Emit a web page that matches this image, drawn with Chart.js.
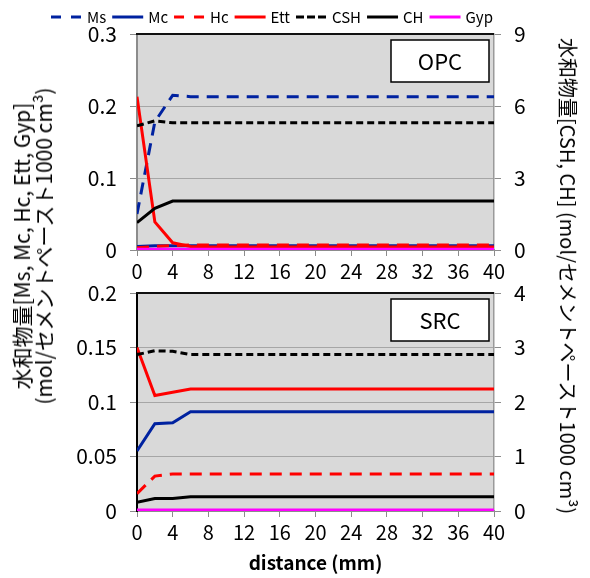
<!DOCTYPE html>
<html>
<head>
<meta charset="utf-8">
<script src="https://cdn.jsdelivr.net/npm/chart.js@4"></script>
<style>
  html, body { margin: 0; padding: 0; background: #fff; }
  #wrap { position: relative; width: 590px; height: 578px; overflow: hidden; }
  #topBox { position: absolute; left: 0; top: 0; width: 590px; height: 285px; }
  #botBox { position: absolute; left: 0; top: 285px; width: 590px; height: 293px; }
  .ytitle { position: absolute; white-space: nowrap; text-align: center; color: #000;
            font-family: "Noto Sans CJK JP", "Noto Sans", sans-serif; }
  #titleL { left: 32px; top: 246px; font-size: 21px; line-height: 22px;
            transform: translate(-50%, -50%) rotate(-90deg); }
  #titleR { left: 568px; top: 276px; font-size: 20px; line-height: 22px;
            transform: translate(-50%, -50%) rotate(90deg); }
</style>
</head>
<body>
<div id="wrap">
  <div id="topBox"><canvas id="opcChart"></canvas></div>
  <div id="botBox"><canvas id="srcChart"></canvas></div>
  <div class="ytitle" id="titleL">水和物量[Ms, Mc, Hc, Ett, Gyp]<br>(mol/セメントペースト1000 cm³)</div>
  <div class="ytitle" id="titleR">水和物量[CSH, CH] (mol/セメントペースト1000 cm³)</div>
</div>
<script>
const FONT = "'Noto Sans CJK JP', 'Noto Sans', sans-serif";

// distance from surface (mm)
const distance = [0, 2, 4, 6, 8, 10, 12, 14, 16, 18, 20, 22, 24, 26, 28, 30, 32, 34, 36, 38, 40];

// OPC  (Ms..Ett, Gyp: left axis / CSH, CH: right axis)
const opcMs  = [0.050, 0.178, 0.215, 0.213, 0.213, 0.213, 0.213, 0.213, 0.213, 0.213, 0.213, 0.213, 0.213, 0.213, 0.213, 0.213, 0.213, 0.213, 0.213, 0.213, 0.213];
const opcMc  = [0.005, 0.006, 0.006, 0.006, 0.006, 0.006, 0.006, 0.006, 0.006, 0.006, 0.006, 0.006, 0.006, 0.006, 0.006, 0.006, 0.006, 0.006, 0.006, 0.006, 0.006];
const opcHc  = [0.003, 0.005, 0.006, 0.007, 0.007, 0.007, 0.007, 0.007, 0.007, 0.007, 0.007, 0.007, 0.007, 0.007, 0.007, 0.007, 0.007, 0.007, 0.007, 0.007, 0.007];
const opcEtt = [0.213, 0.039, 0.010, 0.005, 0.004, 0.004, 0.004, 0.004, 0.004, 0.004, 0.004, 0.004, 0.004, 0.004, 0.004, 0.004, 0.004, 0.004, 0.004, 0.004, 0.004];
const opcCSH = [5.17, 5.38, 5.30, 5.30, 5.30, 5.30, 5.30, 5.30, 5.30, 5.30, 5.30, 5.30, 5.30, 5.30, 5.30, 5.30, 5.30, 5.30, 5.30, 5.30, 5.30];
const opcCH  = [1.14, 1.74, 2.04, 2.04, 2.04, 2.04, 2.04, 2.04, 2.04, 2.04, 2.04, 2.04, 2.04, 2.04, 2.04, 2.04, 2.04, 2.04, 2.04, 2.04, 2.04];
const opcGyp = [0.001, 0.001, 0.001, 0.001, 0.001, 0.001, 0.001, 0.001, 0.001, 0.001, 0.001, 0.001, 0.001, 0.001, 0.001, 0.001, 0.001, 0.001, 0.001, 0.001, 0.001];

// SRC
const srcMs  = [0.000, 0.000, 0.000, 0.000, 0.000, 0.000, 0.000, 0.000, 0.000, 0.000, 0.000, 0.000, 0.000, 0.000, 0.000, 0.000, 0.000, 0.000, 0.000, 0.000, 0.000];
const srcMc  = [0.055, 0.080, 0.081, 0.091, 0.091, 0.091, 0.091, 0.091, 0.091, 0.091, 0.091, 0.091, 0.091, 0.091, 0.091, 0.091, 0.091, 0.091, 0.091, 0.091, 0.091];
const srcHc  = [0.016, 0.032, 0.034, 0.034, 0.034, 0.034, 0.034, 0.034, 0.034, 0.034, 0.034, 0.034, 0.034, 0.034, 0.034, 0.034, 0.034, 0.034, 0.034, 0.034, 0.034];
const srcEtt = [0.150, 0.106, 0.109, 0.112, 0.112, 0.112, 0.112, 0.112, 0.112, 0.112, 0.112, 0.112, 0.112, 0.112, 0.112, 0.112, 0.112, 0.112, 0.112, 0.112, 0.112];
const srcCSH = [2.87, 2.94, 2.93, 2.87, 2.87, 2.87, 2.87, 2.87, 2.87, 2.87, 2.87, 2.87, 2.87, 2.87, 2.87, 2.87, 2.87, 2.87, 2.87, 2.87, 2.87];
const srcCH  = [0.16, 0.23, 0.23, 0.26, 0.26, 0.26, 0.26, 0.26, 0.26, 0.26, 0.26, 0.26, 0.26, 0.26, 0.26, 0.26, 0.26, 0.26, 0.26, 0.26, 0.26];
const srcGyp = [0.001, 0.001, 0.001, 0.001, 0.001, 0.001, 0.001, 0.001, 0.001, 0.001, 0.001, 0.001, 0.001, 0.001, 0.001, 0.001, 0.001, 0.001, 0.001, 0.001, 0.001];

const xTicks = [0, 4, 8, 12, 16, 20, 24, 28, 32, 36, 40];

const NAVY = '#0022a0', RED = '#ff0000', BLACK = '#000000', MAGENTA = '#ff00ff';
const SERIES = [
  { label: 'Ms',  color: NAVY,    dash: [12, 8], axis: 'y' },
  { label: 'Mc',  color: NAVY,    dash: [],      axis: 'y' },
  { label: 'Hc',  color: RED,     dash: [12, 8], axis: 'y' },
  { label: 'Ett', color: RED,     dash: [],      axis: 'y' },
  { label: 'CSH', color: BLACK,   dash: [7, 4],  axis: 'y1' },
  { label: 'CH',  color: BLACK,   dash: [],      axis: 'y1' },
  { label: 'Gyp', color: MAGENTA, dash: [],      axis: 'y' }
];

function makeDatasets(values) {
  return SERIES.map((s, i) => ({
    label: s.label,
    data: distance.map((d, k) => ({ x: d, y: values[i][k] })),
    borderColor: s.color,
    backgroundColor: s.color,
    borderDash: s.dash,
    borderWidth: 3,
    pointRadius: 0,
    tension: 0,
    yAxisID: s.axis,
    order: SERIES.length - i
  }));
}

// legend row across the top, drawn from the dataset styles
const lineLegend = {
  id: 'lineLegend',
  afterDraw(chart) {
    const c = chart.ctx;
    let x = 51;
    const y = 17;
    c.save();
    c.font = '15px ' + FONT;
    c.textAlign = 'left';
    c.textBaseline = 'middle';
    chart.data.datasets.forEach(ds => {
      c.strokeStyle = ds.borderColor;
      c.lineWidth = 3;
      c.setLineDash(ds.borderDash.length ? (ds.borderDash[0] > 8 ? [10, 10] : [8, 3]) : []);
      c.beginPath();
      c.moveTo(x, y);
      c.lineTo(x + 31, y);
      c.stroke();
      c.setLineDash([]);
      x += 36;
      c.fillStyle = '#000';
      c.fillText(ds.label, x, y);
      x += c.measureText(ds.label).width + 6;
    });
    c.restore();
  }
};

// pin the plot area: no extra room for half tick labels
const noPad = (w) => (scale) => {
  scale.width = w;
  scale.paddingTop = 0;
  scale.paddingBottom = 0;
};

function makeChart(canvasId, values, o) {
  const ctx = document.getElementById(canvasId);
  const extra = o.legend ? [lineLegend] : [];
  return new Chart(ctx, {
    type: 'line',
    data: { datasets: makeDatasets(values) },
    options: {
      responsive: true,
      maintainAspectRatio: false,
      animation: false,
      events: [],
      layout: { padding: { left: 0, right: 48, top: o.padTop, bottom: 0 } },
      plugins: {
        legend: { display: false },
        tooltip: { enabled: false }
      },
      scales: {
        x: {
          type: 'linear', min: 0, max: 40,
          afterBuildTicks: (scale) => { scale.ticks = xTicks.map(v => ({ value: v })); },
          afterFit: (scale) => { scale.height = o.xHeight; },
          grid: { drawOnChartArea: false, drawTicks: true, tickLength: 6, tickColor: '#8c8c8c' },
          border: { color: o.xBorder, width: 2 },
          ticks: { color: '#000', padding: 3, maxRotation: 0, autoSkip: false, font: { family: FONT, size: 20 } },
          title: {
            display: !!o.xTitle, text: o.xTitle || '', color: '#000',
            padding: { top: 0, bottom: 4 },
            font: { family: FONT, size: 19, weight: 'bold' }
          }
        },
        y: {
          position: 'left', min: 0, max: o.yMax,
          ticks: { stepSize: o.yStep, color: '#000', padding: 13, font: { family: FONT, size: 21 },
                   callback: (v) => String(+v.toFixed(2)) },
          afterFit: noPad(137),
          grid: { color: '#a6a6a6', lineWidth: 1, tickLength: 7, tickColor: '#8c8c8c' },
          border: { color: o.yBorder, width: 2 }
        },
        y1: {
          position: 'right', min: 0, max: o.y1Max,
          ticks: { stepSize: o.y1Step, color: '#000', padding: 13, font: { family: FONT, size: 21 } },
          afterFit: noPad(48),
          grid: { drawOnChartArea: false, tickLength: 7, tickColor: '#8c8c8c' },
          border: { color: '#9a9a9a', width: 1.5 }
        }
      }
    },
    plugins: extra.concat([{
      id: canvasId + 'Frame',
      beforeDraw(chart) {
        const { ctx: c, chartArea: a } = chart;
        c.save();
        c.fillStyle = '#d9d9d9';
        c.fillRect(a.left, a.top, a.right - a.left, a.bottom - a.top);
        c.restore();
      },
      afterDraw(chart) {
        const { ctx: c, chartArea: a } = chart;
        c.save();
        // top edge of plot area
        c.strokeStyle = '#111';
        c.lineWidth = 2;
        c.beginPath();
        c.moveTo(a.left - 1, a.top);
        c.lineTo(a.right, a.top);
        c.stroke();
        // cement label box
        const bw = 98, bh = 42;
        const bx = a.right - 5 - bw, by = a.top + 6;
        c.fillStyle = '#fff';
        c.fillRect(bx, by, bw, bh);
        c.strokeStyle = '#000';
        c.lineWidth = 1.5;
        c.strokeRect(bx, by, bw, bh);
        c.fillStyle = '#000';
        c.font = '22px ' + FONT;
        c.textAlign = 'center';
        c.textBaseline = 'middle';
        c.fillText(o.tag, bx + bw / 2, by + bh / 2 + 1);
        c.restore();
      }
    }])
  });
}

makeChart('opcChart', [opcMs, opcMc, opcHc, opcEtt, opcCSH, opcCH, opcGyp], {
  legend: true, padTop: 34, xHeight: 35, tag: 'OPC',
  yMax: 0.3, yStep: 0.1, y1Max: 9, y1Step: 3,
  xBorder: '#8c8c8c', yBorder: '#8c8c8c'
});

makeChart('srcChart', [srcMs, srcMc, srcHc, srcEtt, srcCSH, srcCH, srcGyp], {
  legend: false, padTop: 8, xHeight: 67, tag: 'SRC', xTitle: 'distance (mm)',
  yMax: 0.2, yStep: 0.05, y1Max: 4, y1Step: 1,
  xBorder: '#8c8c8c', yBorder: '#000'
});
</script>
</body>
</html>
